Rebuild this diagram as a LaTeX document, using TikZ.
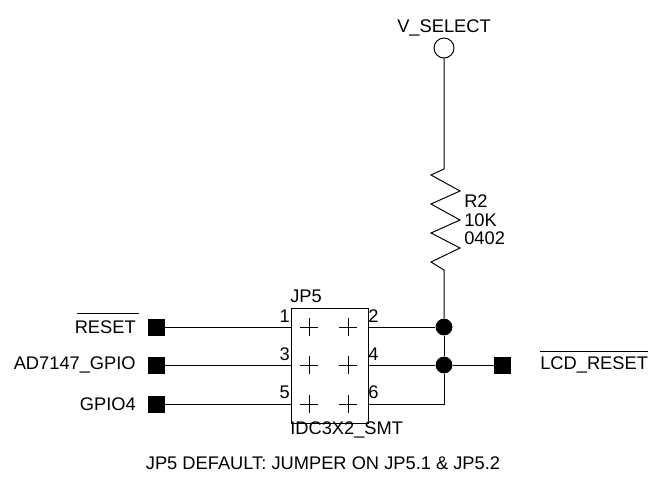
\documentclass[tikz,border=0pt]{standalone}
\usepackage{fontspec}
\setmainfont{Liberation Sans}
\tikzset{
    wire/.style={line width=0.7pt},
    term/.style={draw, fill=black, minimum size=0.4cm, inner sep=0pt},
    joint/.style={circle, fill=black, minimum size=0.42cm, inner sep=0pt},
    lbl/.style={inner sep=0pt, font=\fontsize{13}{15}\selectfont}
}
\newcommand{\pincross}[1]{\draw [wire] (#1) ++(-9,0) -- ++(18,0) (#1) ++(0,-9) -- ++(0,18);}
\begin{document}
\begin{tikzpicture}[x=0.025cm, y=-0.025cm]
        \useasboundingbox (0,0) rectangle (648,481);
        % header box
        \node [draw, wire, minimum width=1.925cm, minimum height=2.875cm, inner sep=0pt] (jp) at (329.5,365.5) {};
        \foreach \x in {309,348}
            \foreach \y in {327,365,404}
                \pincross{\x,\y}
        \coordinate (p1) at (291,327);
        \coordinate (p3) at (291,365);
        \coordinate (p5) at (291,404);
        \coordinate (p2) at (368,327);
        \coordinate (p4) at (368,365);
        \coordinate (p6) at (368,404);
        % left side
        \node [term] (reset) at (156,327) {};
        \node [term] (gpioa) at (156,365) {};
        \node [term] (gpiob) at (156,404) {};
        \draw [wire] (reset) -- (p1);
        \draw [wire] (gpioa) -- (p3);
        \draw [wire] (gpiob) -- (p5);
        \node [lbl, anchor=east] (resetlbl) at (136,327) {RESET};
        \node [lbl, anchor=east] (gpioalbl) at (136,365) {AD7147\_GPIO};
        \node [lbl, anchor=east] (gpioblbl) at (136,404) {GPIO4};
        \draw [wire] (77,313) -- (139,313);
        % right side
        \node [joint] (dota) at (444,327) {};
        \node [joint] (dotb) at (444,365) {};
        \node [term] (lcd) at (502,365) {};
        \draw [wire] (p2) -- (dota);
        \draw [wire] (p4) -- (dotb) -- (lcd);
        \draw [wire] (dota) -- (dotb) |- (p6);
        \node [lbl, anchor=west] (lcdlbl) at (540,365) {LCD\_RESET};
        \draw [wire] (540,351) -- (648,351);
        % supply and resistor
        \node [draw, wire, circle, minimum size=0.5cm, inner sep=0pt] (vsel) at (444,48) {};
        \draw [wire] (vsel) -- (444,169) -- (431,175) -- (460,191) -- (431,204) -- (460,220)
            -- (431,233) -- (460,248) -- (431,262) -- (444,270) -- (dota);
        % labels
        \node [lbl] (vlbl) at (444,28) {V\_SELECT};
        \node [lbl, anchor=west] (rname) at (464,201) {R2};
        \node [lbl, anchor=west] (rval) at (464,220) {10K};
        \node [lbl, anchor=west] (rsize) at (464,238) {0402};
        \node [lbl, anchor=west] (jpname) at (290,296) {JP5};
        \node [lbl, anchor=west] (jptype) at (290,430) {IDC3X2\_SMT};
        \node [lbl, anchor=east] at (290,316) {1};
        \node [lbl, anchor=east] at (290,354) {3};
        \node [lbl, anchor=east] at (290,392) {5};
        \node [lbl, anchor=west] at (368,316) {2};
        \node [lbl, anchor=west] at (368,354) {4};
        \node [lbl, anchor=west] at (368,392) {6};
        \node [lbl] (note) at (323,463) {JP5 DEFAULT: JUMPER ON JP5.1 \& JP5.2};
    \end{tikzpicture}
\end{document}
